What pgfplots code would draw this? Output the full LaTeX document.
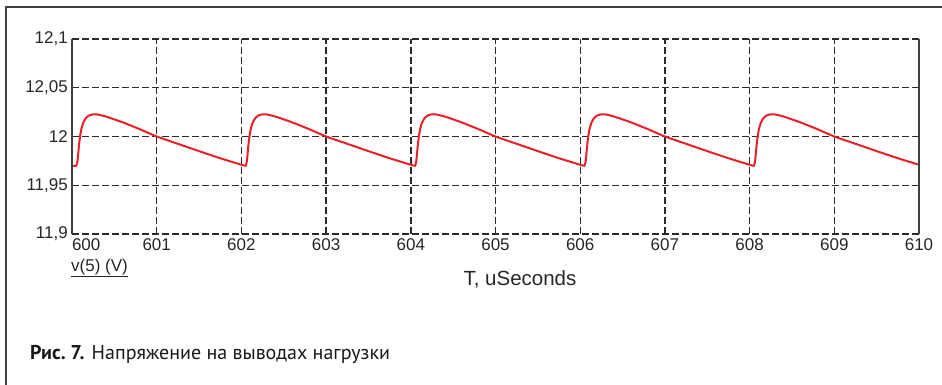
\documentclass[border=0pt]{standalone}
\usepackage{pgfplots}
\pgfplotsset{compat=1.18}
\usepackage{fontspec}
\setmainfont{Liberation Sans}
\newfontfamily\capfont{PT Sans}
\definecolor{curve}{HTML}{E8202A}
\definecolor{gridc}{HTML}{2A2A2A}
\begin{document}
\begin{tikzpicture}[x=1pt,y=1pt]
\useasboundingbox (0,0) rectangle (942,385);
\draw[line width=1.5pt, black!75] (6,0) -- (6,378) -- (942,378);
\begin{axis}[
  at={(72pt,151pt)}, anchor=south west,
  scale only axis, width=847pt, height=195pt,
  xmin=600, xmax=610, ymin=11.9, ymax=12.1,
  xtick={600,601,...,610},
  xticklabels={\makebox[0pt][l]{600},601,602,603,604,605,606,607,608,609,610},
  ytick={11.9,11.95,12,12.05,12.1},
  yticklabels={{11,9},{11,95},{12},{12,05},{12,1}},
  major tick length=0pt,
  tick style={draw=none},
  axis line style={draw=none},
  grid=major,
  major grid style={dash pattern=on 6.5pt off 3.5pt, line width=1.4pt, gridc},
  ticklabel style={font=\fontsize{17}{20}\selectfont, text=black!85},
  yticklabel style={inner sep=0pt},
  xticklabel style={inner sep=0pt},
  yticklabel shift=4pt,
  xticklabel shift=4pt,
  clip=false,
]
\addplot[curve, line width=2pt, smooth, tension=0.3] coordinates {
(600.000,11.9700) (600.050,11.9700) (600.065,11.9750) (600.075,11.9840) (600.085,11.9930) (600.095,12.0000) (600.110,12.0075) (600.130,12.0135) (600.160,12.0185) (600.200,12.0215) (600.250,12.0228) (600.300,12.0226) (600.400,12.0205) (600.600,12.0145) (600.800,12.0075) (601.000,12.0000) (601.250,11.9925) (601.500,11.9850) (601.750,11.9777) (602.000,11.9710)
(602.050,11.9700) (602.065,11.9750) (602.075,11.9840) (602.085,11.9930) (602.095,12.0000) (602.110,12.0075) (602.130,12.0135) (602.160,12.0185) (602.200,12.0215) (602.250,12.0228) (602.300,12.0226) (602.400,12.0205) (602.600,12.0145) (602.800,12.0075) (603.000,12.0000) (603.250,11.9925) (603.500,11.9850) (603.750,11.9777) (604.000,11.9710)
(604.050,11.9700) (604.065,11.9750) (604.075,11.9840) (604.085,11.9930) (604.095,12.0000) (604.110,12.0075) (604.130,12.0135) (604.160,12.0185) (604.200,12.0215) (604.250,12.0228) (604.300,12.0226) (604.400,12.0205) (604.600,12.0145) (604.800,12.0075) (605.000,12.0000) (605.250,11.9925) (605.500,11.9850) (605.750,11.9777) (606.000,11.9710)
(606.050,11.9700) (606.065,11.9750) (606.075,11.9840) (606.085,11.9930) (606.095,12.0000) (606.110,12.0075) (606.130,12.0135) (606.160,12.0185) (606.200,12.0215) (606.250,12.0228) (606.300,12.0226) (606.400,12.0205) (606.600,12.0145) (606.800,12.0075) (607.000,12.0000) (607.250,11.9925) (607.500,11.9850) (607.750,11.9777) (608.000,11.9710)
(608.050,11.9700) (608.065,11.9750) (608.075,11.9840) (608.085,11.9930) (608.095,12.0000) (608.110,12.0075) (608.130,12.0135) (608.160,12.0185) (608.200,12.0215) (608.250,12.0228) (608.300,12.0226) (608.400,12.0205) (608.600,12.0145) (608.800,12.0075) (609.000,12.0000) (609.250,11.9925) (609.500,11.9850) (609.750,11.9777) (610.000,11.9710)
};
\draw[line width=1.5pt, black!75] (rel axis cs:0,0) -- (rel axis cs:0,1);
\draw[line width=1.5pt, black!75] (rel axis cs:1,0) -- (rel axis cs:1,1);
\end{axis}
\node[anchor=north west, inner sep=0pt, font=\fontsize{17}{20}\selectfont, text=black!85] at (71,126) {\underline{v(5) (V)}};
\node[inner sep=0pt, font=\fontsize{20.5}{24}\selectfont, text=black!85] at (520,106) {T, uSeconds};
\node[anchor=west, inner sep=0pt, font=\capfont\fontsize{20}{24}\selectfont, text=black!90] at (30,31) {\textbf{Рис.~7.} Напряжение на выводах нагрузки};
\end{tikzpicture}
\end{document}
